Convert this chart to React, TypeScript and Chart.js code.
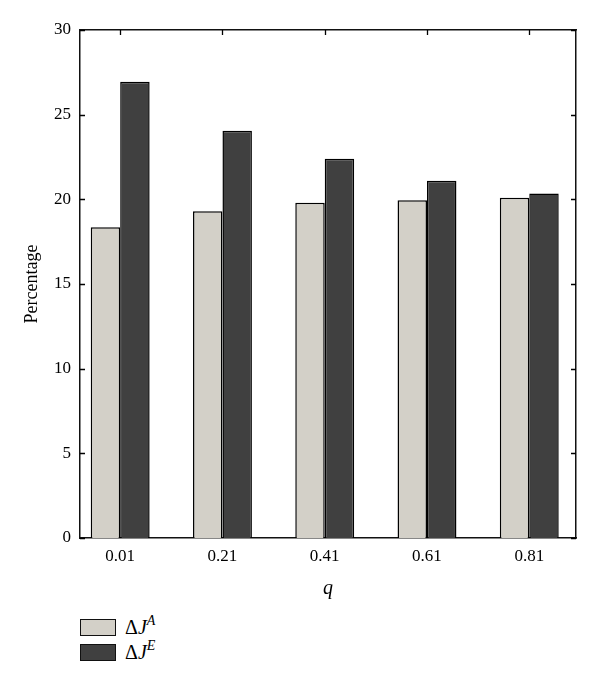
import React, { useEffect, useRef } from 'react';
import { Chart, registerables } from 'chart.js';

Chart.register(...registerables);

const categories = ['0.01', '0.21', '0.41', '0.61', '0.81'];
const categoryPositions = [1, 2, 3, 4, 5];
const xRange = [0.607, 5.457];
const deltaJA = [18.35, 19.3, 19.8, 19.95, 20.1];
const deltaJE = [26.95, 24.05, 22.4, 21.1, 20.35];
const yTickValues = [0, 5, 10, 15, 20, 25, 30];
const seriesNames = ['ΔJ', 'ΔJ'];
const seriesSup = ['A', 'E'];
const seriesColors = ['#d3d0c8', '#404040'];

const FONT = "'Liberation Serif', 'DejaVu Serif', serif";

const innerTicks = {
  id: 'innerTicks',
  afterDatasetsDraw(chart: any) {
    const { ctx, chartArea, scales } = chart;
    const { left, right, top } = chartArea;
    ctx.save();
    ctx.strokeStyle = '#000';
    ctx.lineWidth = 1.3;
    ctx.beginPath();
    yTickValues.forEach((v) => {
      const py = Math.round(scales.y.getPixelForValue(v)) + 0.5;
      ctx.moveTo(left, py);
      ctx.lineTo(left + 5, py);
      ctx.moveTo(right, py);
      ctx.lineTo(right - 5, py);
    });
    categoryPositions.forEach((p) => {
      const px = Math.round(scales.x.getPixelForValue(p)) + 0.5;
      ctx.moveTo(px, top);
      ctx.lineTo(px, top + 5);
    });
    ctx.stroke();
    ctx.restore();
  },
};

export default function App() {
  const ref = useRef<HTMLCanvasElement>(null);

  useEffect(() => {
    if (!ref.current) return;
    const chart = new Chart(ref.current, {
      type: 'bar',
      data: {
        datasets: [
          {
            label: 'ΔJA',
            data: deltaJA.map((y, i) => ({ x: categoryPositions[i], y })),
            backgroundColor: seriesColors[0],
            borderColor: '#000',
            borderWidth: 1.5,
            categoryPercentage: 0.576,
            barPercentage: 1,
          },
          {
            label: 'ΔJE',
            data: deltaJE.map((y, i) => ({ x: categoryPositions[i], y })),
            backgroundColor: seriesColors[1],
            borderColor: '#000',
            borderWidth: 1.5,
            categoryPercentage: 0.576,
            barPercentage: 1,
          },
        ],
      },
      options: {
        animation: false,
        responsive: false,
        maintainAspectRatio: false,
        layout: { padding: 0 },
        plugins: {
          legend: { display: false },
          tooltip: { enabled: false },
        },
        scales: {
          x: {
            type: 'linear',
            position: 'bottom',
            min: xRange[0],
            max: xRange[1],
            offset: false,
            afterBuildTicks: (s: any) => {
              s.ticks = categoryPositions.map((v) => ({ value: v }));
            },
            grid: { display: false, drawTicks: false },
            border: { display: true, color: '#111', width: 1.5 },
            ticks: {
              color: '#000',
              font: { family: FONT, size: 17 },
              padding: 8,
              callback: (v: any) => categories[categoryPositions.indexOf(Number(v))] ?? '',
            },
            title: {
              display: true,
              text: 'q',
              color: '#000',
              font: { family: FONT, size: 20, style: 'italic' },
              padding: { top: 0, bottom: 2 },
            },
            afterFit: (s: any) => {
              s.height = 65;
            },
          },
          x2: {
            type: 'linear',
            position: 'top',
            min: xRange[0],
            max: xRange[1],
            grid: { display: false, drawTicks: false },
            border: { display: true, color: '#111', width: 1.5 },
            ticks: { display: false },
            afterFit: (s: any) => {
              s.height = 30;
            },
          },
          y: {
            position: 'left',
            min: 0,
            max: 30,
            afterBuildTicks: (s: any) => {
              s.ticks = yTickValues.map((v) => ({ value: v }));
            },
            grid: { display: false, drawTicks: false },
            border: { display: true, color: '#111', width: 1.5 },
            ticks: { color: '#000', font: { family: FONT, size: 17 }, padding: 9 },
            title: {
              display: true,
              text: 'Percentage',
              color: '#000',
              font: { family: FONT, size: 18 },
              padding: { top: 21, bottom: 0 },
            },
            afterFit: (s: any) => {
              s.width = 80;
            },
          },
          y2: {
            position: 'right',
            min: 0,
            max: 30,
            grid: { display: false, drawTicks: false },
            border: { display: true, color: '#111', width: 1.5 },
            ticks: { display: false },
            afterFit: (s: any) => {
              s.width = 24;
            },
          },
        },
      },
      plugins: [innerTicks],
    });
    return () => chart.destroy();
  }, []);

  return (
    <div style={{ position: 'absolute', left: 0, top: 0, width: 600, height: 685, background: '#fff' }}>
      <canvas ref={ref} width={600} height={603} style={{ display: 'block', width: 600, height: 603 }} />
      <div style={{ position: 'absolute', left: 80, top: 619, fontFamily: FONT, fontSize: 20, color: '#000' }}>
        {seriesNames.map((name, i) => (
          <div key={i} style={{ display: 'flex', alignItems: 'center', height: 17, marginBottom: 8 }}>
            <div
              style={{
                width: 34,
                height: 15,
                background: seriesColors[i],
                border: '1px solid #111',
                marginRight: 9,
              }}
            />
            <span style={{ lineHeight: '17px', whiteSpace: 'nowrap' }}>
              Δ<i>J</i>
              <sup style={{ fontSize: 14, fontStyle: 'italic', verticalAlign: 'top', lineHeight: '10px', position: 'relative', top: -3 }}>
                {seriesSup[i]}
              </sup>
            </span>
          </div>
        ))}
      </div>
    </div>
  );
}
